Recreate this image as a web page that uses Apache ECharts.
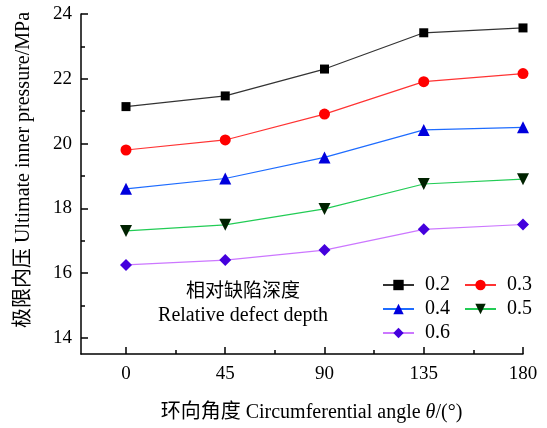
<!DOCTYPE html>
<html>
<head>
<meta charset="utf-8">
<script src="https://cdn.jsdelivr.net/npm/echarts@6/dist/echarts.min.js"></script>
<style>
  html, body { margin: 0; padding: 0; background: #fff; }
  #chartLineBox { width: 547px; height: 428px; }
</style>
</head>
<body>
<div id="chartLineBox"></div>
<script>
// 环向角度
var angles = [0, 45, 90, 135, 180];
// 各相对缺陷深度下的极限内压 (MPa)
var depth02 = [21.14, 21.47, 22.3, 23.42, 23.57];
var depth03 = [19.8, 20.11, 20.91, 21.91, 22.16];
var depth04 = [18.6, 18.92, 19.57, 20.42, 20.5];
var depth05 = [17.3, 17.49, 17.98, 18.75, 18.9];
var depth06 = [16.25, 16.4, 16.71, 17.35, 17.5];

// 刻度
var xMajorTicks = [0, 45, 90, 135, 180];
var xMinorTicks = [22.5, 67.5, 112.5, 157.5];
var yMajorTicks = [14, 16, 18, 20, 22, 24];
var yMinorTicks = [15, 17, 19, 21, 23];

var serif = "'Liberation Serif', 'Times New Roman', 'Noto Sans CJK SC', serif";

function pairs(ys) {
  var out = [];
  for (var i = 0; i < angles.length; i++) {
    out.push([angles[i], ys[i]]);
  }
  return out;
}

function makeSeries(name, ys, lineColor, markColor, symbol, size, rotate) {
  return {
    name: name,
    type: "line",
    data: pairs(ys),
    symbol: symbol,
    symbolSize: size,
    symbolRotate: rotate || 0,
    showAllSymbol: true,
    itemStyle: { color: markColor },
    lineStyle: { color: lineColor, width: 1.2 },
    emphasis: { disabled: true }
  };
}

var chart = echarts.init(document.getElementById("chartLineBox"));

var tickStyle = { color: "#000", width: 1.5 };

var option = {
  animation: false,
  backgroundColor: "#fff",
  grid: { left: 81, right: 24, top: 14, bottom: 72 },
  legend: {
    left: 382,
    top: 275,
    width: 180,
    padding: 0,
    itemWidth: 31,
    itemHeight: 13,
    itemGap: 4,
    // 末尾加空格拉开两列
    formatter: function (name) {
      return name + "\u00a0\u00a0";
    },
    textStyle: {
      fontFamily: serif,
      fontSize: 20,
      color: "#000",
      padding: [0, 0, 0, 6]
    },
    data: ["0.2", "0.3", "0.4", "0.5", "0.6"]
  },
  graphic: [
    {
      type: "text",
      x: 243,
      y: 292,
      style: {
        text: "相对缺陷深度",
        fontFamily: serif,
        fontSize: 19,
        fill: "#000",
        align: "center",
        verticalAlign: "middle"
      }
    },
    {
      type: "text",
      x: 243,
      y: 316,
      style: {
        text: "Relative defect depth",
        fontFamily: serif,
        fontSize: 20,
        fill: "#000",
        align: "center",
        verticalAlign: "middle"
      }
    }
  ],
  xAxis: [
    {
      type: "value",
      min: -20.4,
      max: 180,
      position: "bottom",
      name: "环向角度 Circumferential angle {i|θ}/(°)",
      nameLocation: "middle",
      nameGap: 49,
      nameTextStyle: {
        fontFamily: serif,
        fontSize: 20,
        color: "#000",
        padding: [0, 0, 0, 19],
        rich: { i: { fontFamily: serif, fontSize: 20, fontStyle: "italic", color: "#000" } }
      },
      axisLine: { show: true, onZero: false, lineStyle: tickStyle },
      axisTick: { show: true, inside: true, length: 7, customValues: xMajorTicks, lineStyle: tickStyle },
      axisLabel: { customValues: xMajorTicks, margin: 11, fontFamily: serif, fontSize: 19, color: "#000" },
      splitLine: { show: false }
    },
    {
      type: "value",
      min: -20.4,
      max: 180,
      position: "bottom",
      axisLine: { show: false, onZero: false },
      axisTick: { show: true, inside: true, length: 4, customValues: xMinorTicks, lineStyle: tickStyle },
      axisLabel: { show: false },
      splitLine: { show: false }
    }
  ],
  yAxis: [
    {
      type: "value",
      min: 13.5,
      max: 24,
      position: "left",
      name: "极限内压 Ultimate inner pressure/MPa",
      nameLocation: "middle",
      nameGap: 47,
      nameTextStyle: {
        fontFamily: serif,
        fontSize: 20,
        color: "#000",
        padding: [0, 0, 0, 28]
      },
      axisLine: { show: true, onZero: false, lineStyle: tickStyle },
      axisTick: { show: true, inside: true, length: 7, customValues: yMajorTicks, lineStyle: tickStyle },
      axisLabel: { customValues: yMajorTicks, margin: 9, fontFamily: serif, fontSize: 19, color: "#000" },
      splitLine: { show: false }
    },
    {
      type: "value",
      min: 13.5,
      max: 24,
      position: "left",
      axisLine: { show: false, onZero: false },
      axisTick: { show: true, inside: true, length: 4, customValues: yMinorTicks, lineStyle: tickStyle },
      axisLabel: { show: false },
      splitLine: { show: false }
    }
  ],
  series: [
    makeSeries("0.2", depth02, "#333333", "#000000", "rect", 9),
    makeSeries("0.3", depth03, "#ff3333", "#ff0000", "circle", 11),
    makeSeries("0.4", depth04, "#1e6cff", "#0000dd", "triangle", 12),
    makeSeries("0.5", depth05, "#22cc55", "#002200", "triangle", 12, 180),
    makeSeries("0.6", depth06, "#cc77ff", "#4400dd", "diamond", 12)
  ]
};

chart.setOption(option);
</script>
</body>
</html>
